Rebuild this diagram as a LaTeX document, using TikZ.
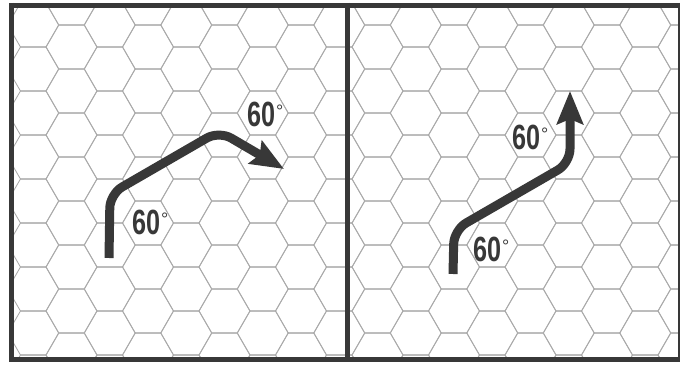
\documentclass[tikz,border=0pt]{standalone}
\usepackage{fontspec}
\usepackage{graphicx}
\setmainfont{Liberation Sans}
\usetikzlibrary{arrows.meta}

\definecolor{inkgray}{HTML}{383838}
\definecolor{hexgray}{HTML}{AAAAAA}

\tikzset{
  hexline/.style={draw=hexgray, line width=0.85pt},
  frameline/.style={draw=inkgray, line width=5pt},
  turnpath/.style={draw=inkgray, line width=9pt, rounded corners=14pt,
                   -{Stealth[length=33pt, width=26pt, inset=5pt]}},
  anglelabel/.style={anchor=base west, inner sep=0pt, text=inkgray,
                     font=\fontsize{35}{38}\selectfont\bfseries}
}
\newcommand{\deglabel}{\scalebox{0.72}[1]{60}\hspace{1pt}\raisebox{9pt}{\fontsize{18}{18}\mdseries\selectfont °}}

\begin{document}
\begin{tikzpicture}[x=1pt, y=-1pt]
    \useasboundingbox (0,0) rectangle (681,366);
    \fill[white] (0,0) rectangle (681,366);

    % hex grid behind both panels
    \begin{scope}
      \clip (11,5) rectangle (679,360);
      \foreach \c in {-1,...,17}
        \foreach \j in {-1,...,8} {
          \pgfmathsetmacro\hx{71.5+38.25*\c}
          \pgfmathsetmacro\hy{47+44*\j+22*mod(\c,2)}
          \draw[hexline] (\hx,\hy) +(0:25.5) -- +(60:25.5) -- +(120:25.5)
            -- +(180:25.5) -- +(240:25.5) -- +(300:25.5) -- cycle;
        }
    \end{scope}

    % frame
    \draw[frameline] (11,5.5) -- (679,5.5);
    \draw[frameline] (11,360) -- (679,360);
    \draw[frameline] (11,3) -- (11,362.5);
    \draw[frameline] (347,3) -- (347,362.5);
    \draw[draw=inkgray, line width=2pt] (679,3) -- (679,362.5);

    % left panel: turn right, then right again
    \coordinate (lstart) at (109,258);
    \coordinate (lbend1) at (110,194);
    \coordinate (lbend2) at (219,131);
    \coordinate (ltip) at (284,169);
    \draw[turnpath] (lstart) -- (lbend1) -- (lbend2) -- (ltip);
    \node[anglelabel] (lturn1) at (132,235) {\deglabel};
    \node[anglelabel] (lturn2) at (247,127) {\deglabel};

    % right panel: turn right, then back left
    \coordinate (rstart) at (453,274);
    \coordinate (rbend1) at (454,230);
    \coordinate (rbend2) at (570,163);
    \coordinate (rtip) at (570,91);
    \draw[turnpath] (rstart) -- (rbend1) -- (rbend2) -- (rtip);
    \node[anglelabel] (rturn1) at (473,262) {\deglabel};
    \node[anglelabel] (rturn2) at (512,150) {\deglabel};
\end{tikzpicture}
\end{document}
